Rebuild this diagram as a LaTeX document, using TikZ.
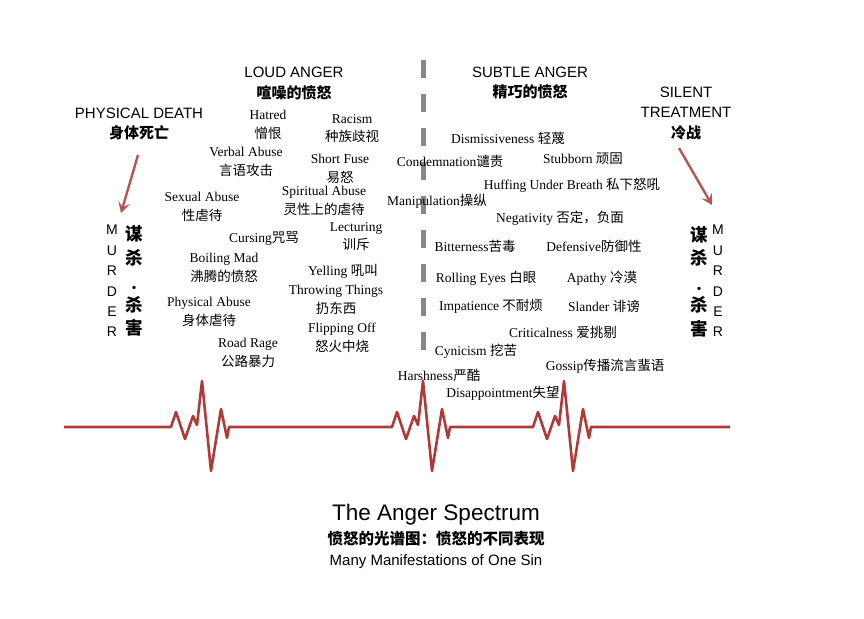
\documentclass[tikz,border=0pt]{standalone}
\usepackage{fontspec}
\setmainfont{Liberation Serif}
\newfontfamily\headfont{Liberation Sans}
\newfontfamily\cjk{Noto Sans CJK SC}
\usetikzlibrary{arrows.meta}

\definecolor{pulsered}{RGB}{176,58,58}
\definecolor{arrowred}{RGB}{183,84,84}
\definecolor{dashgray}{RGB}{135,135,135}

\newcommand{\zh}[1]{{\cjk #1}}
\newcommand{\zhb}[1]{{\cjk\bfseries #1}}
\newcommand{\middot}{{\fontsize{12}{23.5}\selectfont\raisebox{-5pt}{·}}}

\tikzset{
  word/.style={inner sep=0pt, align=center, font=\fontsize{13.5}{18.8}\selectfont},
  heading/.style={inner sep=0pt, align=center, font=\headfont\fontsize{15}{20.5}\selectfont},
  letters/.style={inner sep=0pt, align=center, font=\headfont\fontsize{14}{20.4}\selectfont},
  hanzi/.style={inner sep=0pt, align=center, font=\cjk\bfseries\fontsize{17.5}{23.5}\selectfont},
  redarrow/.style={draw=arrowred, line width=2.4pt, -{Stealth[length=11pt,width=12pt,inset=5pt]}},
  pulse/.style={draw=pulsered, line width=2.6pt, line join=round}
}

\begin{document}
\begin{tikzpicture}[x=1pt,y=-1pt]
\useasboundingbox (0,0) rectangle (864,618);

% divider
\draw[dashgray, line width=5pt, dash pattern=on 18pt off 16pt] (423,60) -- (423,350);

% headings
\node[heading] (loud) at (294,83.5) {LOUD ANGER\\\zhb{喧噪的愤怒}};
\node[heading] (subtle) at (530,83) {SUBTLE ANGER\\\zhb{精巧的愤怒}};
\node[heading, font=\headfont\fontsize{15}{20}\selectfont] (death) at (139,124.5) {PHYSICAL DEATH\\\zhb{身体死亡}};
\node[heading, font=\headfont\fontsize{15}{20.8}\selectfont] (silent) at (686,113.5) {SILENT\\TREATMENT\\\zhb{冷战}};

% murder columns
\node[letters] (lmurder) at (112,281) {M\\U\\R\\D\\E\\R};
\node[hanzi] (lkill) at (134,281) {谋\\杀\\\middot\\杀\\害};
\node[hanzi] (rkill) at (699,281.5) {谋\\杀\\\middot\\杀\\害};
\node[letters] (rmurder) at (718,281) {M\\U\\R\\D\\E\\R};

\coordinate (ltail) at (138,155);
\coordinate (ltip) at (121,213);
\coordinate (rtail) at (679,148);
\coordinate (rtip) at (712,205);
\draw[redarrow] (ltail) -- (ltip);
\draw[redarrow] (rtail) -- (rtip);

% loud anger
\node[word] (hatred) at (268,125) {Hatred\\\zh{憎恨}};
\node[word] (racism) at (352,128.5) {Racism\\\zh{种族歧视}};
\node[word] (verbal) at (246,162) {Verbal Abuse\\\zh{言语攻击}};
\node[word] (fuse) at (340,168.5) {Short Fuse\\\zh{易怒}};
\node[word] (spiritual) at (324,201) {Spiritual Abuse\\\zh{灵性上的虐待}};
\node[word] (sexual) at (202,207) {Sexual Abuse\\\zh{性虐待}};
\node[word] (lecturing) at (356,236.5) {Lecturing\\\zh{训斥}};
\node[word] (cursing) at (264,239) {Cursing\zh{咒骂}};
\node[word] (boiling) at (224,268) {Boiling Mad\\\zh{沸腾的愤怒}};
\node[word] (yelling) at (343,271) {Yelling \zh{吼叫}};
\node[word] (throwing) at (336,300) {Throwing Things\\\zh{扔东西}};
\node[word] (physical) at (209,312) {Physical Abuse\\\zh{身体虐待}};
\node[word] (flipping) at (342,337.5) {Flipping Off\\\zh{怒火中烧}};
\node[word] (road) at (248,352.5) {Road Rage\\\zh{公路暴力}};

% subtle anger
\node[word] (dismiss) at (508,138) {Dismissiveness \zh{轻蔑}};
\node[word] (condemn) at (450,161) {Condemnation\zh{谴责}};
\node[word] (stubborn) at (583,159) {Stubborn \zh{顽固}};
\node[word] (huffing) at (572,185) {Huffing Under Breath \zh{私下怒吼}};
\node[word] (manip) at (437,201) {Manipulation\zh{操纵}};
\node[word] (negativity) at (560,218) {Negativity \zh{否定，负面}};
\node[word] (bitter) at (475,246) {Bitterness\zh{苦毒}};
\node[word] (defensive) at (594,246) {Defensive\zh{防御性}};
\node[word] (rolling) at (486,278) {Rolling Eyes \zh{白眼}};
\node[word] (apathy) at (602,278) {Apathy \zh{冷漠}};
\node[word] (impatience) at (491,306) {Impatience \zh{不耐烦}};
\node[word] (slander) at (604,306) {Slander \zh{诽谤}};
\node[word] (critical) at (563,332) {Criticalness \zh{爱挑剔}};
\node[word] (cynicism) at (476,351) {Cynicism \zh{挖苦}};
\node[word] (gossip) at (605,366) {Gossip\zh{传播流言蜚语}};
\node[word] (harsh) at (439,375) {Harshness\zh{严酷}};
\node[word] (disappoint) at (503,393) {Disappointment\zh{失望}};

% heartbeat
\draw[pulse] (64,427) -- (171,427)
  -- ++(5,-15) -- ++(9,27) -- ++(8,-23) -- ++(4,9) -- ++(5,-44) -- ++(9,90) -- ++(10,-62) -- ++(6,29) -- ++(2,-11)
  -- (392,427)
  -- ++(5,-15) -- ++(9,27) -- ++(8,-23) -- ++(4,9) -- ++(5,-44) -- ++(9,90) -- ++(10,-62) -- ++(6,29) -- ++(2,-11)
  -- (533,427)
  -- ++(5,-15) -- ++(9,27) -- ++(8,-23) -- ++(4,9) -- ++(5,-44) -- ++(9,90) -- ++(10,-62) -- ++(6,29) -- ++(2,-11)
  -- (730,427);

% title
\node[inner sep=0pt, font=\headfont\fontsize{22.5}{26}\selectfont] (title) at (436,515) {The Anger Spectrum};
\node[inner sep=0pt, font=\cjk\bfseries\fontsize{15.5}{18}\selectfont] (titlezh) at (436,539) {愤怒的光谱图：愤怒的不同表现};
\node[inner sep=0pt, font=\headfont\fontsize{15}{18}\selectfont] (subtitle) at (436,562) {Many Manifestations of One Sin};
\end{tikzpicture}
\end{document}
